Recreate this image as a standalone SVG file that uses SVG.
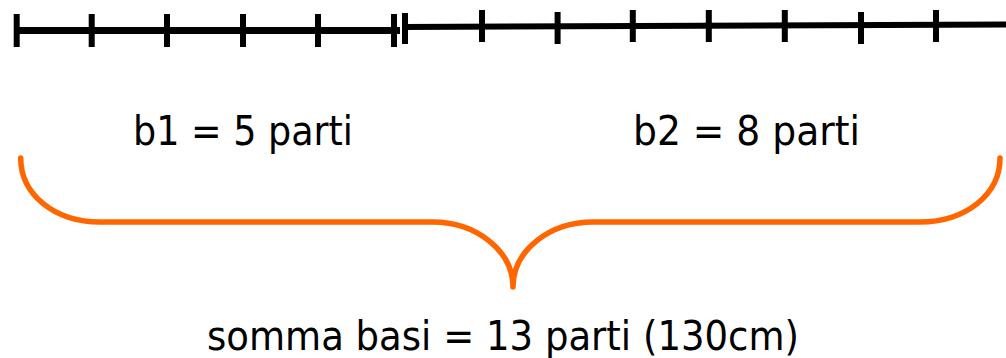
<svg xmlns="http://www.w3.org/2000/svg" width="1006" height="358" viewBox="0 0 1006 358">
<style>
.ax{stroke:#000;stroke-width:7;fill:none}
.tk{stroke:#000;stroke-width:6;fill:none}
.br{stroke:#FF6600;stroke-width:5.5;fill:none;stroke-linecap:round;stroke-linejoin:round}
.lb{font-family:"DejaVu Sans","Liberation Sans",sans-serif;font-size:40px;fill:#000}
</style>
<rect width="1006" height="358" fill="#fff"/>
<g id="segment-b1">
<line class="ax" x1="14" y1="30.5" x2="400" y2="30.5"/>
<path class="tk" d="M16.7 14V47M91.7 14V47M167 14V47M243 14V47M318 14V47M394 14V47"/>
</g>
<g id="segment-b2">
<line class="ax" x1="403" y1="27" x2="1006" y2="24.5" style="stroke-width:6"/>
<path class="tk" d="M405 13V44M482 10V42M557.6 12V44M632.8 10V42M708.8 10V42M784.8 10V42M861 12V44M936 10V42"/>
</g>
<g id="label-b1"><text class="lb" x="133" y="145" textLength="220" lengthAdjust="spacingAndGlyphs">b1 = 5 parti</text></g>
<g id="label-b2"><text class="lb" x="633" y="145" textLength="227" lengthAdjust="spacingAndGlyphs">b2 = 8 parti</text></g>
<g id="connectors">
<path class="br" d="M20.7 158C20.7 195 55 222 100 222L433 222C475 222 513 250 513 287C513 250 550 222 593 222L920 222C965 222 1000 195 1000 158"/>
</g>
<g id="label-sum"><text class="lb" x="207" y="350" textLength="592" lengthAdjust="spacingAndGlyphs">somma basi = 13 parti (130cm)</text></g>
</svg>
